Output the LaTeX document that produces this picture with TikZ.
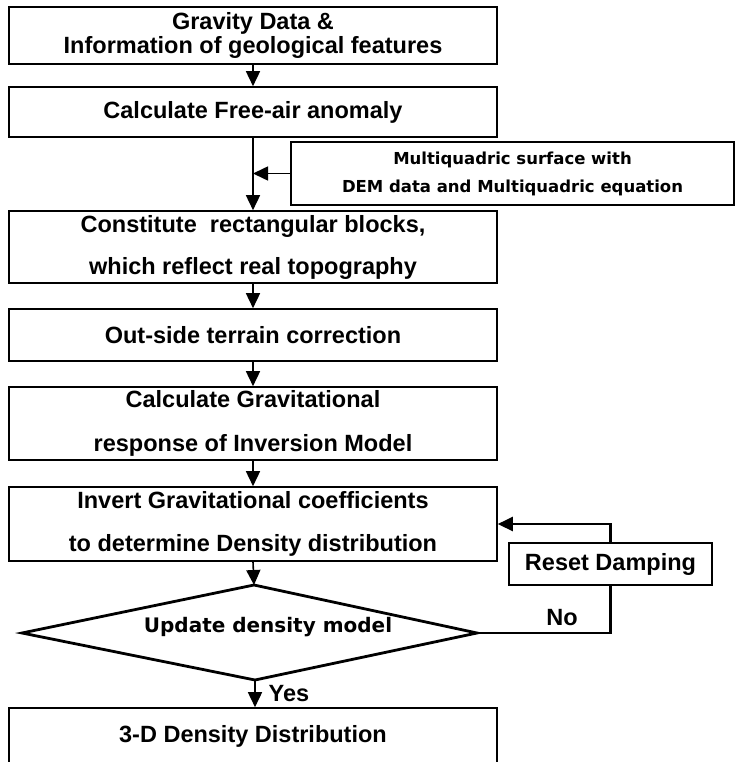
\documentclass[tikz,border=0pt]{standalone}
\usepackage{fontspec}
\setmainfont{Liberation Sans}[BoldFont={Liberation Sans Bold}]
\newfontfamily\dvfont{DejaVu Sans}
\usetikzlibrary{arrows.meta}
\begin{document}
\begin{tikzpicture}[x=1pt,y=-1pt,
  box/.style={draw, line width=1.6pt, inner sep=0pt, align=center, minimum width=488pt},
  maintext/.style={font=\bfseries\fontsize{23.5}{#1}\selectfont},
  arr/.style={-{Triangle[length=15pt,width=14pt]}, line width=1.6pt},
  thickline/.style={line width=2.6pt},
  lbl/.style={inner sep=0pt, font=\bfseries\fontsize{23.5}{24}\selectfont}
]
\useasboundingbox (0,0) rectangle (735,762);
\fill[white] (0,0) rectangle (735,762);

% main boxes
\node[box, maintext=24.5, minimum height=57pt] (b1) at (253,35.5) {Gravity Data \&\\Information of geological features};
\node[box, maintext=24, minimum height=50pt] (b2) at (253,112) {Calculate Free-air anomaly};
\node[box, maintext=42, minimum height=72pt] (b3) at (253,247) {Constitute\ \ rectangular blocks,\\which reflect real topography};
\node[box, maintext=24, minimum height=52pt] (b4) at (253,335) {Out-side terrain correction};
\node[box, maintext=44, minimum height=73pt] (b5) at (253,423.5) {Calculate Gravitational\\response of Inversion Model};
\node[box, maintext=43, minimum height=74pt] (b6) at (253,524) {Invert Gravitational coefficients\\to determine Density distribution};
\node[box, maintext=24, minimum height=56pt] (b7) at (253,736) {\raisebox{5pt}{3-D Density Distribution}};

% side box
\node[draw, line width=1.6pt, inner sep=0pt, align=center, minimum width=443pt, minimum height=63pt,
  font=\dvfont\bfseries\fontsize{16.5}{28}\selectfont] (mq) at (512.5,173.5)
  {Multiquadric surface with\\DEM data and Multiquadric equation};

% reset box
\node[draw, line width=1.8pt, inner sep=0pt, minimum width=203pt, minimum height=42pt,
  font=\bfseries\fontsize{23.5}{24}\selectfont] (rd) at (610.5,564) {Reset Damping};

% decision diamond
\coordinate (dtop) at (254,585);
\coordinate (dleft) at (22,633);
\coordinate (dright) at (477,633);
\coordinate (dbot) at (255,680);
\draw[line width=2.8pt, line join=miter] (dtop) -- (dright) -- (dbot) -- (dleft) -- cycle;
\node[inner sep=0pt, font=\dvfont\bfseries\fontsize{20}{20}\selectfont] (dtext) at (268,627) {Update density model};

% connectors
\draw[arr] (b1.south) -- (b2.north);
\draw[arr] (b2.south) -- (b3.north);
\draw[arr] (mq.west) -- (mq.west -| b2.south);
\draw[arr] (b3.south) -- (b4.north);
\draw[arr] (b4.south) -- (b5.north);
\draw[arr] (b5.south) -- (b6.north);
\draw[arr] (b6.south) -- (dtop);
\draw[arr] (dbot) -- (dbot |- b7.north);
\draw[thickline] (dright) -| (rd.south);
\draw[thickline, -{Triangle[length=15pt,width=14pt]}] (rd.north) |- (b6.east);

% labels
\node[lbl] (yes) at (289,694) {Yes};
\node[lbl] (no) at (562,618) {No};
\end{tikzpicture}
\end{document}
